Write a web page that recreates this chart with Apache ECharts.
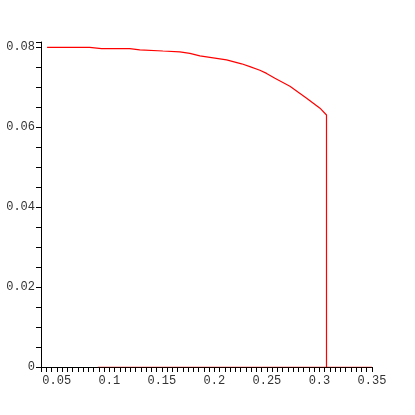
<!DOCTYPE html>
<html>
<head>
<meta charset="utf-8">
<script src="https://cdn.jsdelivr.net/npm/echarts@6/dist/echarts.min.js"></script>
<style>
  html, body { margin: 0; padding: 0; background: #fff; }
  #chart { width: 415px; height: 415px; }
</style>
</head>
<body>
<div id="chart"></div>
<script>
// curve
const xValues = [0.0408, 0.0814, 0.0926, 0.1195, 0.129, 0.151, 0.1671, 0.1767, 0.1862, 0.2116,
  0.2259, 0.2338, 0.2433, 0.2497, 0.2576, 0.2719, 0.2878, 0.3005, 0.3067, 0.3067]
const yValues = [0.0799, 0.0799, 0.0796, 0.0796, 0.0793, 0.0790, 0.0788, 0.0784, 0.0778, 0.0768,
  0.0758, 0.0751, 0.0742, 0.0734, 0.0722, 0.0702, 0.0672, 0.0647, 0.0630, 0]
// red segment lying on the x axis
const floorX = [0.089, 0.35]
const floorY = [0, 0]

const xLabelStep = 0.05
const yLabelStep = 0.02

const chart = echarts.init(document.getElementById('chart'))

const isStep = (v, step) => {
  const k = v / step
  return Math.abs(k - Math.round(k)) < 1e-6
}

const axisText = {
  fontFamily: 'Liberation Mono',
  fontSize: 12,
  color: '#333'
}

chart.setOption({
  animation: false,
  grid: { left: 41, right: 43, top: 42, bottom: 48 },
  xAxis: {
    type: 'value',
    min: 0.035,
    max: 0.35,
    interval: 0.005,
    splitLine: { show: false },
    axisLine: { onZero: false, lineStyle: { color: '#000', width: 1 } },
    axisTick: { length: 5, lineStyle: { color: '#000' } },
    axisLabel: {
      ...axisText,
      margin: 8,
      formatter: v => isStep(v, xLabelStep) ? String(+v.toFixed(2)) : ''
    }
  },
  yAxis: {
    type: 'value',
    min: 0,
    max: 0.08125,
    interval: 0.005,
    splitLine: { show: false },
    axisLine: { show: true, lineStyle: { color: '#000', width: 1 } },
    axisTick: { show: true, length: 5, lineStyle: { color: '#000' } },
    axisLabel: {
      ...axisText,
      margin: 6,
      formatter: v => (v < 0.081 && isStep(v, yLabelStep)) ? String(+v.toFixed(2)) : ''
    }
  },
  series: [
    {
      type: 'line',
      data: floorX.map((x, i) => [x, floorY[i]]),
      showSymbol: false,
      lineStyle: { color: '#ff0000', width: 1, opacity: 0.45 }
    },
    {
      type: 'line',
      data: xValues.map((x, i) => [x, yValues[i]]),
      showSymbol: false,
      lineStyle: { color: '#ff0000', width: 1.2 }
    }
  ]
})
</script>
</body>
</html>
